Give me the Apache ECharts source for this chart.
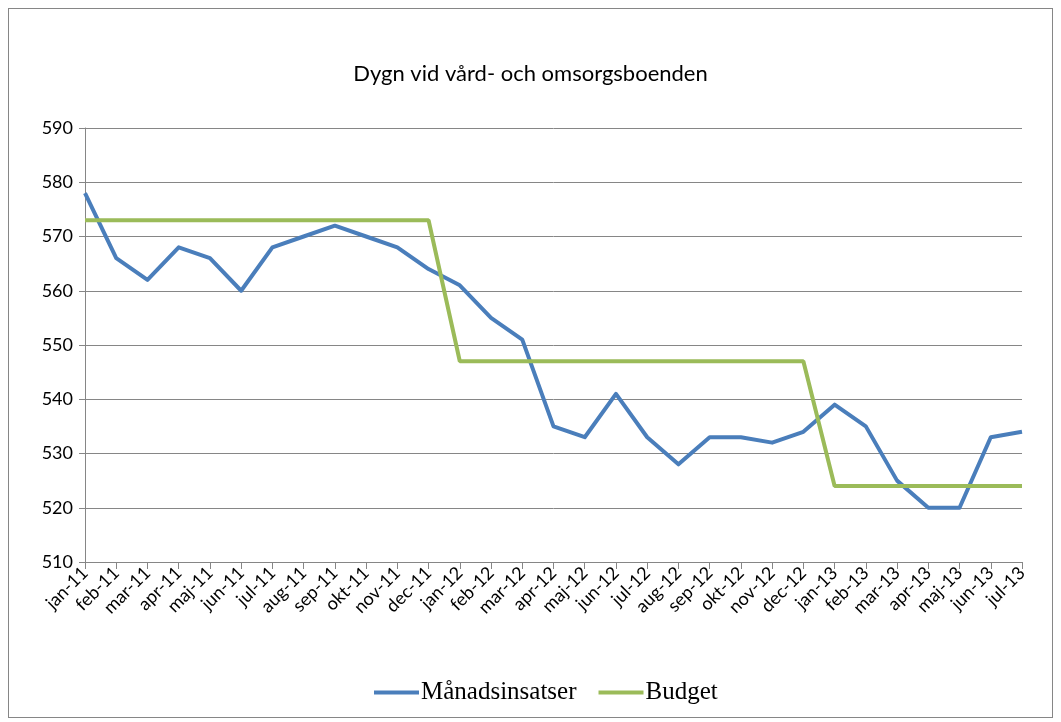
<!DOCTYPE html>
<html><head><meta charset="utf-8">
<script src="https://cdn.jsdelivr.net/npm/echarts@6/dist/echarts.min.js"></script>
<style>
html,body{margin:0;padding:0;background:#fff;}
#frame{position:absolute;left:8px;top:8px;width:1043px;height:708px;border:1px solid #868686;}
#c{position:absolute;left:0;top:0;width:1061px;height:722px;}
</style></head><body>
<div id="frame"></div>
<div id="c"></div>
<script>
const categories = ["jan-11","feb-11","mar-11","apr-11","maj-11","jun-11","jul-11","aug-11","sep-11","okt-11","nov-11","dec-11","jan-12","feb-12","mar-12","apr-12","maj-12","jun-12","jul-12","aug-12","sep-12","okt-12","nov-12","dec-12","jan-13","feb-13","mar-13","apr-13","maj-13","jun-13","jul-13"];
const manadsinsatser = [578,566,562,568,566,560,568,570,572,570,568,564,561,555,551,535,533,541,533,528,533,533,532,534,539,535,525,520,520,533,534];
const budget = [573,573,573,573,573,573,573,573,573,573,573,573,547,547,547,547,547,547,547,547,547,547,547,547,524,524,524,524,524,524,524];
const yMin = 510, yMax = 590, yStep = 10;

const chart = echarts.init(document.getElementById('c'), null, {renderer:'canvas'});
const font = 'Lato, "Open Sans", sans-serif';
chart.setOption({
  animation:false,
  backgroundColor:'transparent',
  title:{text:'Dygn vid vård- och omsorgsboenden',left:'center',top:58,
    textStyle:{fontFamily:font,fontSize:22,fontWeight:'normal',color:'#000'}},
  legend:{bottom:12,left:369,itemWidth:45,itemHeight:4,itemGap:22,icon:'rect',
    textStyle:{fontFamily:'"Liberation Serif", serif',fontSize:25,color:'#000',padding:[0,0,0,-3]},
    data:['Månadsinsatser','Budget']},
  grid:{left:85,right:39,top:128,bottom:160,containLabel:false},
  xAxis:{type:'category',data:categories,boundaryGap:false,
    axisLine:{lineStyle:{color:'#868686',width:1}},
    axisTick:{show:true,length:7,alignWithLabel:true,lineStyle:{color:'#868686'}},
    axisLabel:{rotate:45,interval:0,fontFamily:font,fontSize:18,color:'#000',margin:8},
    splitLine:{show:false}},
  yAxis:{type:'value',min:yMin,max:yMax,interval:yStep,
    axisLine:{show:true,lineStyle:{color:'#868686',width:1}},
    axisTick:{show:true,length:6,lineStyle:{color:'#868686'}},
    axisLabel:{fontFamily:font,fontSize:18,color:'#000',margin:12},
    splitLine:{lineStyle:{color:'#868686',width:1}}},
  series:[
    {name:'Månadsinsatser',type:'line',data:manadsinsatser,showSymbol:false,symbol:'none',
      lineStyle:{color:'#4A7EBB',width:4,join:'round'},itemStyle:{color:'#4A7EBB'}},
    {name:'Budget',type:'line',data:budget,showSymbol:false,symbol:'none',
      lineStyle:{color:'#9BBB59',width:4},itemStyle:{color:'#9BBB59'}}
  ]
});
</script>
</body></html>
